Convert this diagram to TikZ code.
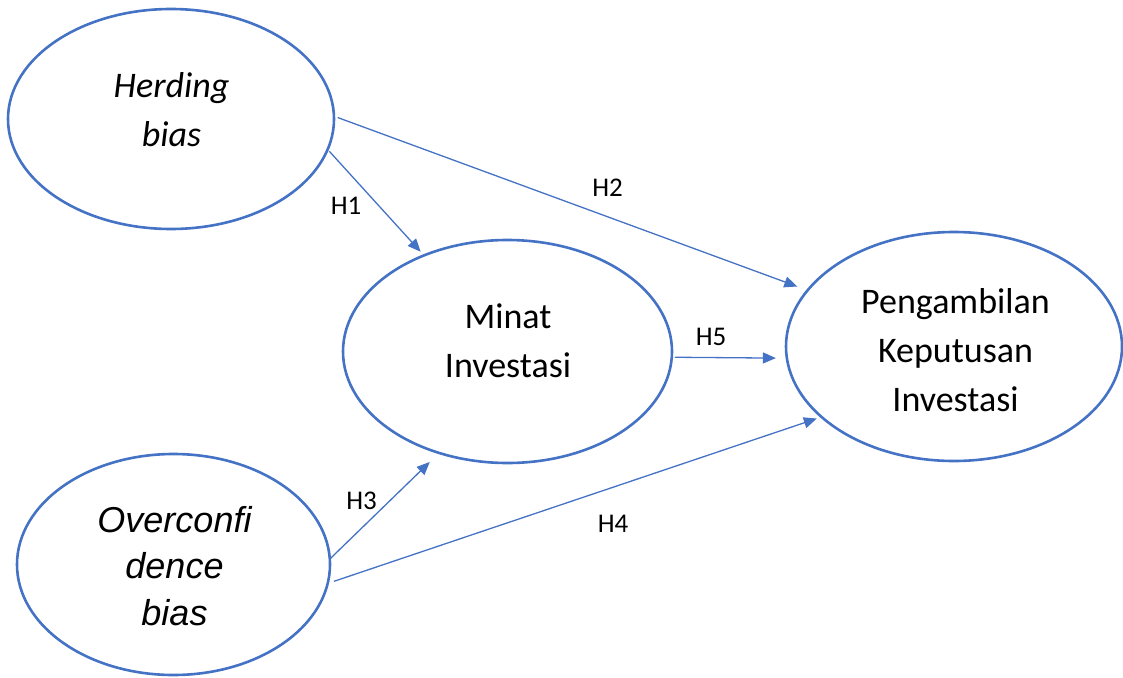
\documentclass[tikz,border=0pt]{standalone}
\usepackage{fontspec}
\setmainfont{Carlito}
\newfontfamily\arialfont{Liberation Sans}
\usetikzlibrary{shapes.geometric,arrows.meta}
\definecolor{accentblue}{HTML}{4472C4}
\begin{document}
\begin{tikzpicture}[x=1pt,y=-1pt,
  bubble/.style={ellipse, draw=accentblue, line width=2.6pt, inner sep=0pt, outer sep=0pt},
  conn/.style={draw=accentblue, line width=1.3pt, -{Triangle[length=13pt,width=11pt]}},
  caltext/.style={font=\fontsize{36}{49}\selectfont, align=center, inner sep=0pt, anchor=north},
  ariatext/.style={font=\arialfont\itshape\fontsize{36}{46.5}\selectfont, align=center, inner sep=0pt, anchor=north},
  hlabel/.style={font=\fontsize{27}{32}\selectfont, inner sep=0pt}
]
\useasboundingbox (0,0) rectangle (1123,677);

% ellipses
\node[bubble, minimum width=326pt, minimum height=220pt] (A) at (171,119) {};
\node[bubble, minimum width=329pt, minimum height=223pt] (B) at (507.5,351.5) {};
\node[bubble, minimum width=313pt, minimum height=221pt] (C) at (173.5,564.5) {};
\node[bubble, minimum width=336pt, minimum height=229pt] (D) at (954,346.5) {};

% texts
\node[caltext, font=\itshape\fontsize{36}{49}\selectfont] (tA) at (171.5,67) {\rule{0pt}{30pt}Herding\\bias};
\node[caltext] (tB) at (508,298) {\rule{0pt}{30pt}Minat\\Investasi};
\node[ariatext] (tC) at (174.5,502) {\rule{0pt}{30pt}Overconfi\\dence\\bias};
\node[caltext] (tD) at (955.5,283) {\rule{0pt}{30pt}Pengambilan\\Keputusan\\Investasi};

% connectors
\draw[conn, shorten <=2.5pt, shorten >=5pt] (A.-11) -- (B.131.3);
\draw[conn, shorten <=4pt, shorten >=11pt] (A.1.4) -- (D.159.2);
\draw[conn, shorten <=3pt, shorten >=11pt] (B.-2.2) -- (D.-176.6);
\draw[conn, shorten >=13pt] (C.2) -- (B.-124.8);
\draw[conn, shorten <=6.6pt, shorten >=5pt] (C.-7.3) -- (D.-152.8);

% labels
\node[hlabel] (h1) at (346,206) {H1};
\node[hlabel] (h2) at (607.5,188) {H2};
\node[hlabel] (h5) at (711,337) {H5};
\node[hlabel] (h3) at (361.5,501) {H3};
\node[hlabel] (h4) at (613,524) {H4};
\end{tikzpicture}
\end{document}
